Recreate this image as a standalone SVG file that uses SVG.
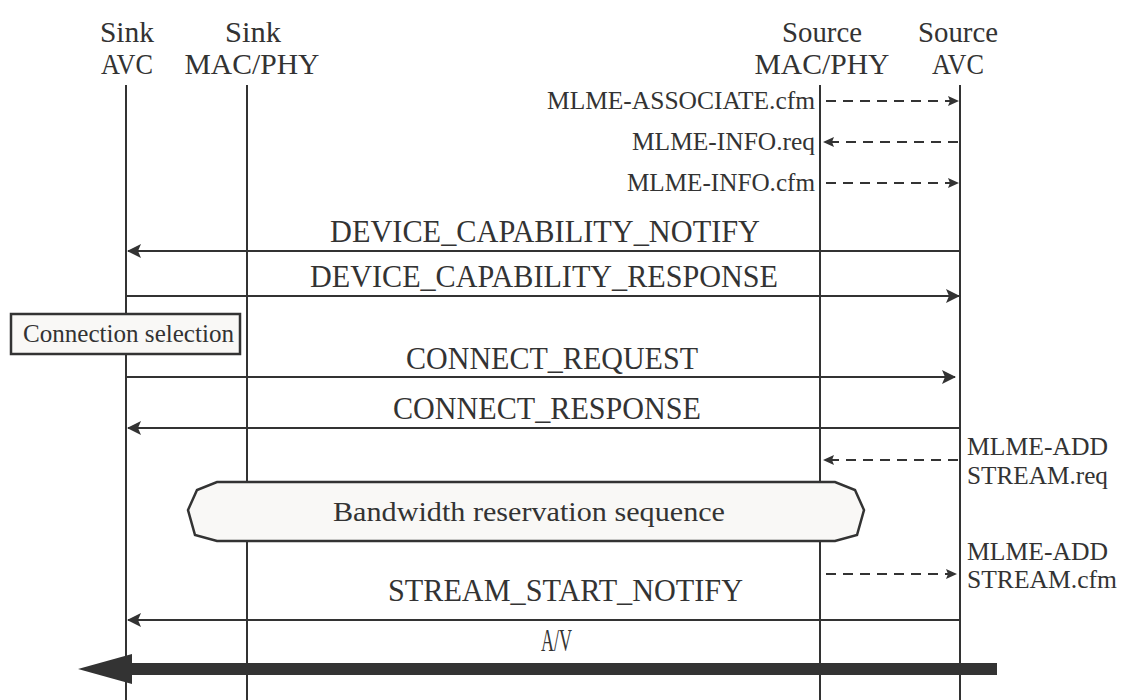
<svg xmlns="http://www.w3.org/2000/svg" width="1122" height="700" viewBox="0 0 1122 700">
<style>
text{font-family:"Liberation Serif","DejaVu Serif",serif;fill:#333}
.h{font-size:29px;text-anchor:middle}
.m{font-size:31px}
.s{font-size:25px}
.life{stroke:#333;stroke-width:2;fill:none}
.msg{stroke:#333;stroke-width:2;fill:none}
.dash{stroke:#333;stroke-width:2;fill:none;stroke-dasharray:10 7}
.box{fill:#f9f8f6;stroke:#333;stroke-width:2.5}
</style>
<defs>
<marker id="ah" viewBox="0 0 14 14" refX="13" refY="7" markerWidth="14" markerHeight="14" markerUnits="userSpaceOnUse" orient="auto">
<path d="M0,0 L14,7 L0,14 L3,7 Z" fill="#333"/>
</marker>
<marker id="ahs" viewBox="0 0 11 10" refX="10" refY="5" markerWidth="11" markerHeight="10" markerUnits="userSpaceOnUse" orient="auto">
<path d="M0,0 L11,5 L0,10 L2,5 Z" fill="#333"/>
</marker>
</defs>
<rect width="1122" height="700" fill="#fff"/>
<g id="sink-avc">
<text class="h" x="127" y="42" textLength="54" lengthAdjust="spacingAndGlyphs">Sink</text>
<text class="h" x="127" y="74" textLength="52" lengthAdjust="spacingAndGlyphs">AVC</text>
<line class="life" x1="126" y1="85" x2="126" y2="700"/>
</g>
<g id="sink-macphy">
<text class="h" x="253" y="42" textLength="56" lengthAdjust="spacingAndGlyphs">Sink</text>
<text class="h" x="252" y="74" textLength="135" lengthAdjust="spacingAndGlyphs">MAC/PHY</text>
<line class="life" x1="247" y1="85" x2="247" y2="700"/>
</g>
<g id="source-macphy">
<text class="h" x="822" y="42" textLength="80" lengthAdjust="spacingAndGlyphs">Source</text>
<text class="h" x="822" y="74" textLength="135" lengthAdjust="spacingAndGlyphs">MAC/PHY</text>
<line class="life" x1="820" y1="85" x2="820" y2="700"/>
</g>
<g id="source-avc">
<text class="h" x="958" y="42" textLength="80" lengthAdjust="spacingAndGlyphs">Source</text>
<text class="h" x="958" y="74" textLength="52" lengthAdjust="spacingAndGlyphs">AVC</text>
<line class="life" x1="960" y1="85" x2="960" y2="700"/>
</g>
<g id="connectors">
<line class="dash" x1="826" y1="101" x2="958" y2="101" marker-end="url(#ahs)"/>
<text class="s" x="815" y="109" text-anchor="end" textLength="268" lengthAdjust="spacingAndGlyphs">MLME-ASSOCIATE.cfm</text>
<line class="dash" x1="958" y1="142" x2="824" y2="142" marker-end="url(#ahs)"/>
<text class="s" x="815" y="150" text-anchor="end" textLength="183" lengthAdjust="spacingAndGlyphs">MLME-INFO.req</text>
<line class="dash" x1="826" y1="183" x2="958" y2="183" marker-end="url(#ahs)"/>
<text class="s" x="815" y="191" text-anchor="end" textLength="188" lengthAdjust="spacingAndGlyphs">MLME-INFO.cfm</text>

<line class="msg" x1="960" y1="251" x2="128" y2="251" marker-end="url(#ah)"/>
<text class="m" x="330" y="242" textLength="430" lengthAdjust="spacingAndGlyphs">DEVICE_CAPABILITY_NOTIFY</text>
<line class="msg" x1="126" y1="296" x2="959" y2="296" marker-end="url(#ah)"/>
<text class="m" x="310" y="287" textLength="468" lengthAdjust="spacingAndGlyphs">DEVICE_CAPABILITY_RESPONSE</text>
<line class="msg" x1="126" y1="377" x2="955" y2="377" marker-end="url(#ah)"/>
<text class="m" x="406" y="369" textLength="292" lengthAdjust="spacingAndGlyphs">CONNECT_REQUEST</text>
<line class="msg" x1="960" y1="428" x2="128" y2="428" marker-end="url(#ah)"/>
<text class="m" x="393" y="419" textLength="308" lengthAdjust="spacingAndGlyphs">CONNECT_RESPONSE</text>

<line class="dash" x1="958" y1="460" x2="824" y2="460" marker-end="url(#ahs)"/>
<text class="s" x="967" y="455" textLength="141" lengthAdjust="spacingAndGlyphs">MLME-ADD</text>
<text class="s" x="967" y="484" textLength="141" lengthAdjust="spacingAndGlyphs">STREAM.req</text>
<line class="dash" x1="826" y1="574" x2="956" y2="574" marker-end="url(#ahs)"/>
<text class="s" x="967" y="560" textLength="141" lengthAdjust="spacingAndGlyphs">MLME-ADD</text>
<text class="s" x="967" y="588" textLength="150" lengthAdjust="spacingAndGlyphs">STREAM.cfm</text>

<line class="msg" x1="960" y1="620" x2="128" y2="620" marker-end="url(#ah)"/>
<text class="m" x="388" y="601" textLength="355" lengthAdjust="spacingAndGlyphs">STREAM_START_NOTIFY</text>

<text class="m" x="541" y="651" textLength="31" lengthAdjust="spacingAndGlyphs">A/V</text>
<rect x="128" y="663" width="869" height="12" fill="#333"/>
<polygon points="78,669 132,654 132,684" fill="#333"/>
</g>
<g id="connection-selection">
<rect class="box" x="11" y="314" width="229" height="40"/>
<text x="23" y="342" font-size="25" textLength="211" lengthAdjust="spacingAndGlyphs">Connection selection</text>
</g>
<g id="bandwidth-reservation">
<polygon class="box" points="217,482 835,482 855,490 864,510 857,535 835,541 217,541 195,535 188,510 197,490"/>
<text x="333" y="521" font-size="28" textLength="392" lengthAdjust="spacingAndGlyphs">Bandwidth reservation sequence</text>
</g>
</svg>
